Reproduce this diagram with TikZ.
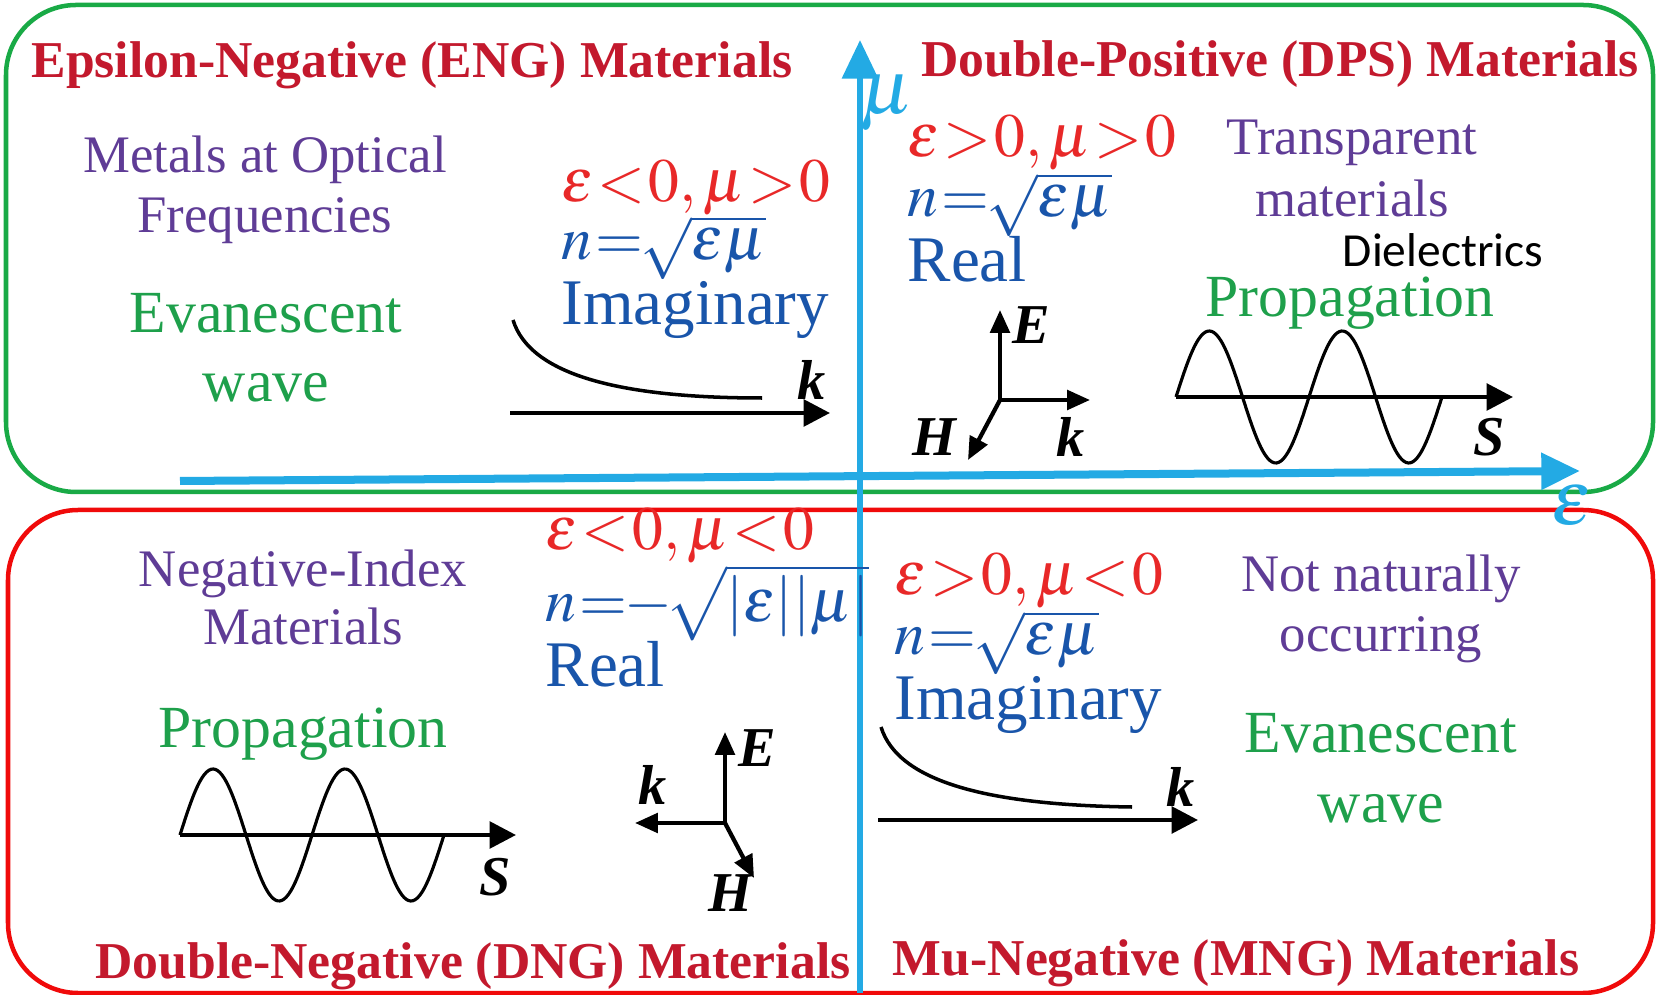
\documentclass[tikz,border=0pt]{standalone}
\usepackage{mathptmx}
\usepackage{fontspec}
\setmainfont{Liberation Serif}
\newfontfamily\dielfont{Carlito}
\usetikzlibrary{arrows.meta,positioning}
\definecolor{titlered}{RGB}{195,25,45}
\definecolor{condred}{RGB}{232,40,40}
\definecolor{indexblue}{RGB}{25,85,170}
\definecolor{kindpurple}{RGB}{95,60,150}
\definecolor{behavgreen}{RGB}{30,160,75}
\definecolor{axisblue}{RGB}{35,170,228}
\definecolor{boxgreen}{RGB}{25,170,70}
\definecolor{boxred}{RGB}{240,10,10}
\newcommand{\mathtight}{\thickmuskip=1mu\relax\medmuskip=1mu\relax}
\tikzset{
  title/.style={
    anchor = base,
    font = \fontsize{14.7}{16}\selectfont\bfseries,
    text = titlered,
    inner sep = 0pt
  },
  cond/.style={
    anchor = base west,
    font = \fontsize{17.5}{20}\selectfont,
    text = condred,
    inner sep = 0pt
  },
  index/.style={
    anchor = base west,
    font = \fontsize{17.5}{20}\selectfont,
    text = indexblue,
    inner sep = 0pt
  },
  verdict/.style={
    index,
    font = \fontsize{18.5}{20}\selectfont
  },
  kind/.style={
    anchor = base,
    font = \fontsize{15}{17}\selectfont,
    text = kindpurple,
    inner sep = 0pt
  },
  behav/.style={
    anchor = base,
    font = \fontsize{17}{19}\selectfont,
    text = behavgreen,
    inner sep = 0pt
  },
  field/.style={
    font = \fontsize{16}{18}\selectfont\bfseries\itshape,
    inner sep = 0pt
  },
  axislabel/.style={
    font = \fontsize{22}{24}\selectfont,
    text = axisblue,
    inner sep = 0pt
  },
  frame/.style={
    line width = 0.45mm,
    rounded corners = 0.7cm
  },
  axis/.style={
    draw = axisblue,
    line width = 0.8mm,
    -{Triangle[length=11pt, width=10pt]}
  },
  kaxis/.style={
    line width = 1.3pt,
    -{Triangle[length=7.5pt, width=7.5pt]}
  },
  vec/.style={
    line width = 1.2pt,
    -{Triangle[length=6.5pt, width=5.5pt]}
  },
  wave/.style={
    line width = 0.9pt
  },
  decay/.style={
    line width = 1pt
  }
}
\begin{document}
\begin{tikzpicture}[x=0.01cm, y=-0.01cm]
    \useasboundingbox (0,0) rectangle (1658,995);

    % frames
    \draw[frame, boxgreen] (6,5) rectangle (1653,492);
    \draw[frame, boxred] (8,510) rectangle (1653,993);

    % axes
    \coordinate (epsTail) at (180,481);
    \coordinate (epsTip) at (1580,471);
    \coordinate (muTail) at (860,993);
    \coordinate (muTip) at (860,40);
    \draw[axis] (epsTail) -- (epsTip);
    \draw[axis, line width=0.6mm] (muTail) -- (muTip);
    \node[axislabel] (mulabel) at (887,103) {$\mu$};
    \node[axislabel] (epslabel) at (1572,506) {$\epsilon$};

    % ENG
    \node[title] (engtitle) at (412,78) {Epsilon-Negative (ENG) Materials};
    \node[kind] (metals) at (265,173) {Metals at Optical};
    \node[kind] (freq) at (265,233) {Frequencies};
    \node[behav] (evan1) at (266,333) {Evanescent};
    \node[behav] (wave1) at (266,402) {wave};
    \node[cond] (engcond) at (561,202) {$\mathtight\epsilon<0,\mu>0$};
    \node[index] (engidx) at (561,260) {$\mathtight n=\!\sqrt{\epsilon\mu}$};
    \node[verdict] (engtype) at (561,325) {Imaginary};
    \coordinate (engk0) at (510,413);
    \coordinate (engk1) at (830,413);
    \draw[kaxis] (engk0) -- (engk1);
    \node[field] (engk) at (812,380) {k};
    \draw[decay] (513,320) .. controls (530,375) and (620,398) .. (762,398);

    % DPS
    \node[title] (dpstitle) at (1280,77) {Double-Positive (DPS) Materials};
    \node[cond] (dpscond) at (907,157) {$\mathtight\epsilon>0,\mu>0$};
    \node[index] (dpsidx) at (907,217) {$\mathtight n=\!\sqrt{\epsilon\mu}$};
    \node[verdict] (dpstype) at (907,282) {Real};
    \node[kind] (transp) at (1352,155) {Transparent};
    \node[kind] (transm) at (1352,217) {materials};
    \node[anchor=base, inner sep=0pt, font=\dielfont\fontsize{13.5}{15}\selectfont] (diel) at (1443,267) {Dielectrics};
    \node[behav] (dpsprop) at (1350,317) {Propagation};
    \coordinate (dpsO) at (1000,400);
    \coordinate (dpsE) at (1000,310);
    \coordinate (dpsK) at (1090,400);
    \coordinate (dpsH) at (968,460);
    \draw[vec] (dpsO) -- (dpsE);
    \draw[vec] (dpsO) -- (dpsK);
    \draw[vec] (dpsO) -- (dpsH);
    \node[field] (dpsElab) at (1031,325) {E};
    \node[field] (dpsKlab) at (1071,437) {k};
    \node[field] (dpsHlab) at (934,437) {H};
    \coordinate (dpsS0) at (1176,397);
    \coordinate (dpsS1) at (1513,397);
    \draw[kaxis] (dpsS0) -- (dpsS1);
    \draw[wave] plot[domain=0:2, samples=120, smooth] ({1176+133*\x},{397-66*sin(360*\x)});
    \node[field] (dpsSlab) at (1489,437) {S};

    % DNG
    \node[title] (dngtitle) at (473,978) {Double-Negative (DNG) Materials};
    \node[kind] (negidx1) at (303,587) {Negative-Index};
    \node[kind] (negidx2) at (303,645) {Materials};
    \node[cond] (dngcond) at (545,550) {$\mathtight\epsilon<0,\mu<0$};
    \node[index] (dngidx) at (545,622) {$\mathtight n=\!-\!\sqrt{\left|\epsilon\right|\!\left|\mu\right|}$};
    \node[verdict] (dngtype) at (545,687) {Real};
    \node[behav] (dngprop) at (303,748) {Propagation};
    \coordinate (dngS0) at (180,835);
    \coordinate (dngS1) at (516,835);
    \draw[kaxis] (dngS0) -- (dngS1);
    \draw[wave] plot[domain=0:2, samples=120, smooth] ({180+132*\x},{835-66*sin(360*\x)});
    \node[field] (dngSlab) at (495,877) {S};
    \coordinate (dngO) at (725,823);
    \coordinate (dngE) at (725,732);
    \coordinate (dngK) at (635,823);
    \coordinate (dngH) at (754,878);
    \draw[vec] (dngO) -- (dngE);
    \draw[vec] (dngO) -- (dngK);
    \draw[vec] (dngO) -- (dngH);
    \node[field] (dngElab) at (757,748) {E};
    \node[field] (dngKlab) at (653,785) {k};
    \node[field] (dngHlab) at (730,893) {H};

    % MNG
    \node[title] (mngtitle) at (1236,975) {Mu-Negative (MNG) Materials};
    \node[cond] (mngcond) at (894,595) {$\mathtight\epsilon>0,\mu<0$};
    \node[index] (mngidx) at (894,655) {$\mathtight n=\!\sqrt{\epsilon\mu}$};
    \node[verdict] (mngtype) at (894,720) {Imaginary};
    \node[kind] (notnat1) at (1381,592) {Not naturally};
    \node[kind] (notnat2) at (1381,652) {occurring};
    \node[behav] (evan2) at (1381,753) {Evanescent};
    \node[behav] (wave2) at (1381,822) {wave};
    \coordinate (mngk0) at (878,820);
    \coordinate (mngk1) at (1198,820);
    \draw[kaxis] (mngk0) -- (mngk1);
    \node[field] (mngk) at (1181,787) {k};
    \draw[decay] (881,727) .. controls (898,782) and (988,805) .. (1132,807);
\end{tikzpicture}
\end{document}
